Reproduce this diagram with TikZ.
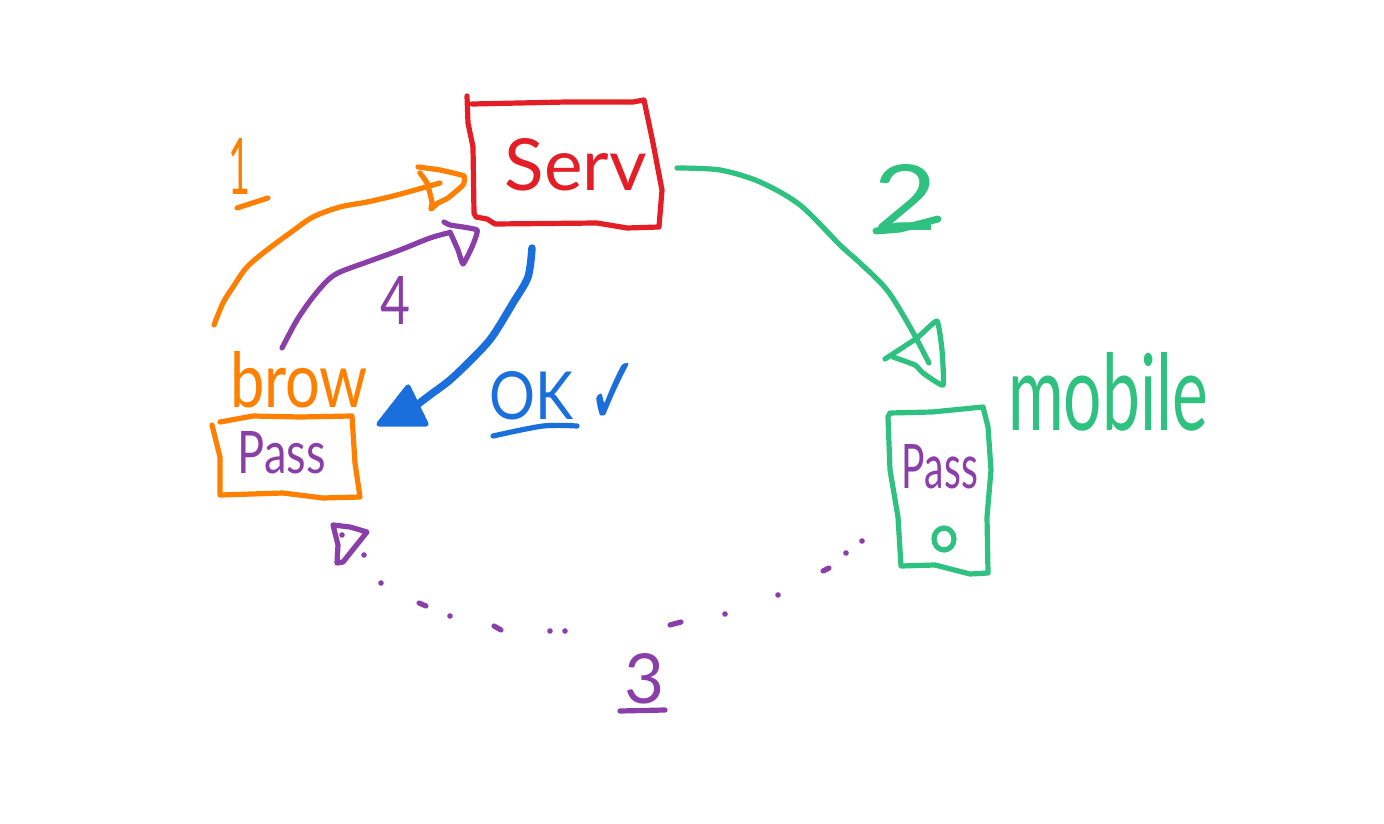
\documentclass[tikz,border=0pt]{standalone}
\usepackage{fontspec}
\usepackage{graphicx}
\setmainfont{Lato}
\newfontfamily\symfont{DejaVu Sans}
\definecolor{hred}{HTML}{E31E26}
\definecolor{horange}{HTML}{FF7F00}
\definecolor{hgreen}{HTML}{2FC17F}
\definecolor{hblue}{HTML}{1B6FDC}
\definecolor{hpurple}{HTML}{8A3FA8}
\newcommand{\fitbox}[3]{\resizebox{#1pt}{#2pt}{#3}}
\tikzset{
  stroke/.style={line width=#1,line cap=round,line join=round},
  stroke/.default=5.2pt,
  wob/.style={smooth,tension=0.5},
  tip/.style={smooth,tension=0.25},
  lbl/.style={inner sep=0pt,outer sep=0pt,anchor=center},
  dotmark/.style={fill=hpurple,draw=none}
}
\begin{document}
\begin{tikzpicture}[x=1pt,y=-1pt]
\useasboundingbox (0,0) rectangle (1384,824);
\fill[white] (0,0) rectangle (1384,824);
% named ends of the connectors
\coordinate (oneS) at (214,325); \coordinate (oneE) at (440,183);
\coordinate (fourS) at (282,348); \coordinate (fourE) at (448,233);
\coordinate (twoS) at (677,168); \coordinate (twoE) at (929,363);
\coordinate (okS) at (532,248); \coordinate (okE) at (413,408);
% server box
\draw[hred,stroke] plot coordinates {(467,96) (468,123) (473,147) (474,213) (476,217) (487,219) (495,224) (597,223) (627,228) (659,227) (662,190) (653,143) (644,100) (633,102) (567,102) (472,104)};
\node[lbl,text=hred] (serv) at (576,165) {\fitbox{142}{52}{Serv}};
% arrow 1
\draw[horange,stroke] plot[wob] coordinates {(oneS) (223,303) (233,287) (247,267) (267,250) (290,233) (313,217) (340,207) (367,202) (397,195) (oneE)};
\draw[horange,stroke] plot[tip] coordinates {(418,167) (440,170) (464,176) (463,185) (448,198) (438,203) (431,209) (432,202) (427,183) (420,173)};
\node[lbl,text=horange] (labA) at (239,166) {\fitbox{22}{56}{1}};
\draw[horange,stroke] (237,208) -- (268,198);
% arrow 4
\draw[hpurple,stroke] plot[wob] coordinates {(fourS) (297,320) (313,297) (328,280) (340,272) (367,262) (400,250) (430,238) (fourE)};
\draw[hpurple,stroke] plot[tip] coordinates {(444,222) (450,225) (477,230) (472,247) (463,264) (458,250) (450,232)};
\node[lbl,text=hpurple] (labD) at (395,300) {\fitbox{30}{48}{4}};
% arrow 2
\draw[hgreen,stroke] plot[wob] coordinates {(twoS) (720,170) (760,182) (800,205) (840,245) (860,263) (887,290) (910,327) (twoE)};
\draw[hgreen,stroke] plot[tip] coordinates {(885,359) (917,338) (937,321) (942,350) (943,385) (923,373) (915,365) (893,357)};
\node[lbl,text=hgreen] (labB) at (906,197) {\fitbox{64}{66}{2}};
\draw[hgreen,stroke=7pt] (876,231) -- (900,229) -- (938,219);
% ok arrow
\draw[hblue,stroke=7.5pt] plot[wob] coordinates {(okS) (528,277) (513,303) (492,337) (473,358) (450,380) (430,395) (okE)};
\draw[hblue,stroke,fill=hblue] (379,424) -- (408,387) -- (426,424) -- cycle;
\node[lbl,text=hblue] (okT) at (532,396) {\fitbox{84}{48}{OK}};
\draw[hblue,stroke] plot[wob] coordinates {(493,436) (543,426) (577,426)};
\node[lbl,text=hblue] (tick) at (613,394) {\fitbox{52}{62}{\symfont ✓}};
% browser
\node[lbl,text=horange] (brow) at (299,380) {\fitbox{138}{56}{brow}};
\draw[horange,stroke] plot coordinates {(212,425) (220,457) (220,495) (283,493) (323,498) (360,497) (355,463) (352,416) (300,417) (253,416) (220,422)};
\node[lbl,text=hpurple] (passA) at (282,453) {\fitbox{88}{42}{Pass}};
% phone
\draw[hgreen,stroke] plot coordinates {(890,413) (932,412) (983,407) (988,427) (991,470) (987,517) (988,573) (970,574) (935,565) (901,566) (898,517) (890,470) (888,417) (890,413)};
\node[lbl,text=hpurple] (passB) at (940,467) {\fitbox{76}{44}{Pass}};
\draw[hgreen,stroke] (944,539) ellipse [x radius=10,y radius=11];
\node[lbl,text=hgreen] (mobile) at (1108,392) {\fitbox{200}{78}{mobile}};
% dotted arrow 3
\foreach \p/\q in {862/541,846/553,778/595,725/614,565/631,550/631,450/616,381/583,364/555,342/535}
  \fill[dotmark] (\p,\q) circle (2.8);
\draw[hpurple,stroke] (823,571) -- (829,568);
\draw[hpurple,stroke] (670,625) -- (681,622);
\draw[hpurple,stroke] (494,626) -- (501,630);
\draw[hpurple,stroke] (419,603) -- (426,606);
\draw[hpurple,stroke] plot coordinates {(333,525) (350,527) (367,532) (355,547) (343,562) (337,563) (338,545) (333,525)};
\node[lbl,text=hpurple] (labC) at (645,679) {\fitbox{40}{50}{3}};
\draw[hpurple,stroke] (620,711) -- (665,710);
\end{tikzpicture}
\end{document}
